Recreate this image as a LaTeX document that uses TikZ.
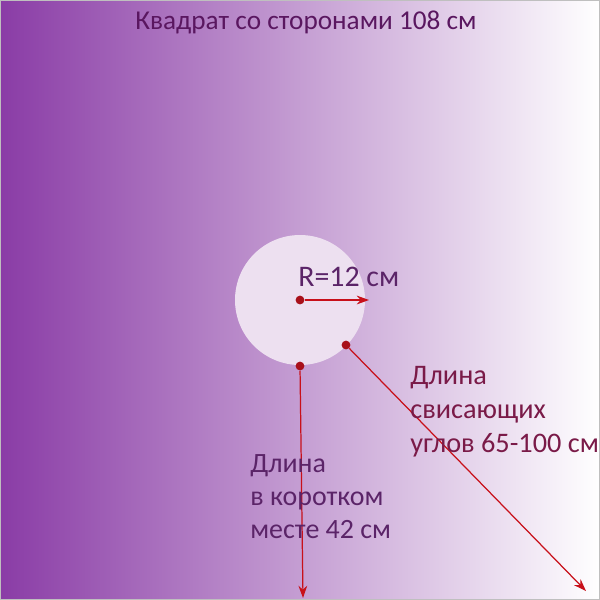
\documentclass[tikz,border=0pt]{standalone}
\usepackage{fontspec}
\setmainfont{Carlito}
\usetikzlibrary{arrows.meta}
\definecolor{leftc}{HTML}{8A3CA6}
\definecolor{circc}{HTML}{EDE0F0}
\definecolor{titlec}{HTML}{5A1760}
\definecolor{leftt}{HTML}{5B2468}
\definecolor{rightt}{HTML}{7A1A48}
\definecolor{redl}{HTML}{C8101A}
\definecolor{dotc}{HTML}{A8101A}
\tikzset{
  redarrow/.style={draw=redl, line width=0.7pt, -{Stealth[length=7pt,width=5pt]}},
  dotmark/.style={circle, fill=dotc, inner sep=0pt, minimum size=5pt},
  lbl/.style={anchor=base west, inner sep=0pt},
}
\begin{document}
\begin{tikzpicture}[x=0.02cm,y=-0.02cm]
\useasboundingbox (0,0) rectangle (600,600);
\shade[left color=leftc, right color=white] (0,0) rectangle (600,600);
\draw[gray!50, line width=0.6pt] (0.5,0.5) rectangle (599.5,599.5);
\node[anchor=base, inner sep=0pt, text=titlec, font=\fontsize{15.5pt}{18pt}\selectfont] (title) at (306,29) {Квадрат со сторонами 108 см};
\node[circle, fill=circc, minimum size=130*0.02cm, inner sep=0pt] (circ) at (300,300) {};
\node[dotmark] (c) at (300,300) {};
\coordinate (rend) at (369,300);
\draw[redarrow] (c) -- (rend);
\node[lbl, text=leftt, font=\fontsize{17pt}{20pt}\selectfont] (r) at (298,286) {R=12 см};
\node[dotmark] (b) at (300,366) {};
\coordinate (bend) at (303,598);
\draw[redarrow] (b) -- (bend);
\node[dotmark] (d) at (346,345) {};
\coordinate (dend) at (586,591);
\draw[redarrow] (d) -- (dend);
\begin{scope}[every node/.style={lbl, text=leftt, font=\fontsize{15.9pt}{18pt}\selectfont}]
\node (l1) at (250,472) {Длина};
\node (l2) at (250,505) {в коротком};
\node (l3) at (250,538) {месте 42 см};
\end{scope}
\begin{scope}[every node/.style={lbl, text=rightt, font=\fontsize{16.1pt}{18pt}\selectfont}]
\node (r1) at (410,384) {Длина};
\node (r2) at (410,418) {свисающих};
\node (r3) at (410,452) {углов 65-100 см};
\end{scope}
\end{tikzpicture}
\end{document}
